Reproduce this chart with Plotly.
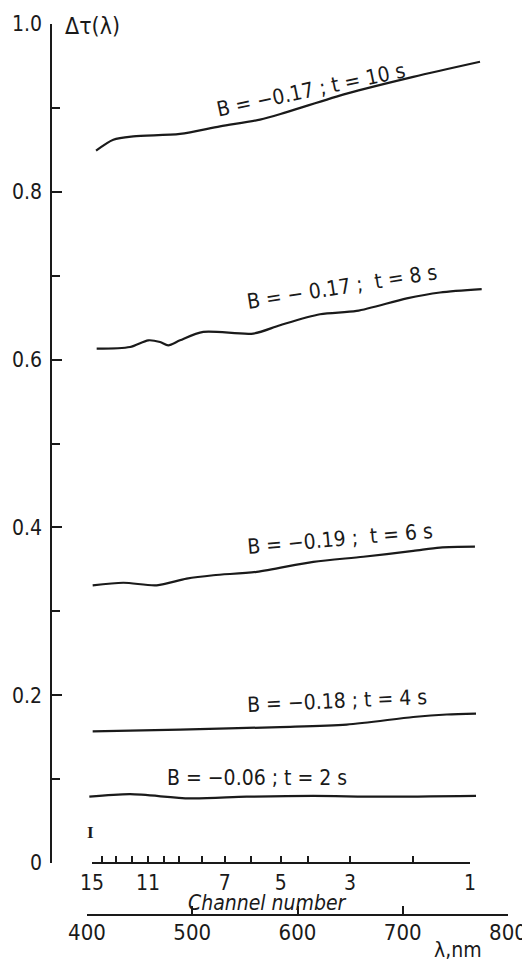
import plotly.graph_objects as go

# ---------------- data ----------------
# wavelength (nm) / delta-tau values for each curve
wl_10s = [408.6, 425.0, 444.0, 488.4, 526.4, 564.4, 589.7, 646.7, 710.0, 773.4]
dt_10s = [0.849, 0.862, 0.866, 0.869, 0.878, 0.886, 0.895, 0.917, 0.937, 0.955]

wl_8s = [409.2, 440.9, 458.2, 469.4, 477.2, 488.4, 510.5, 558.0, 583.4, 621.4, 656.2, 703.8, 735.4, 775.0]
dt_8s = [0.613, 0.615, 0.623, 0.621, 0.617, 0.623, 0.633, 0.631, 0.641, 0.654, 0.658, 0.673, 0.680, 0.684]

wl_6s = [405.4, 434.5, 466.2, 494.7, 520.0, 561.2, 615.0, 662.5, 710.0, 735.4, 768.6]
dt_6s = [0.331, 0.334, 0.331, 0.339, 0.343, 0.347, 0.359, 0.365, 0.372, 0.376, 0.377]

wl_4s = [405.4, 488.4, 583.4, 646.7, 710.0, 741.8, 769.6]
dt_4s = [0.157, 0.159, 0.162, 0.165, 0.174, 0.177, 0.178]

wl_2s = [402.2, 440.9, 497.9, 551.7, 615.0, 678.4, 769.6]
dt_2s = [0.079, 0.082, 0.077, 0.079, 0.080, 0.079, 0.080]

curve_labels = ["B = \u22120.17 ; t = 10 s", "B = \u2212 0.17 ;  t = 8 s", "B = \u22120.19 ;  t = 6 s",
                "B = \u22120.18 ; t = 4 s", "B = \u22120.06 ; t = 2 s"]
label_wl = [612.8, 642.0, 640.4, 637.2, 561.2]
label_dt = [0.921, 0.686, 0.386, 0.193, 0.101]
label_angle = [-12, -9, -5, -2.5, 0]

# channel numbers and their wavelength positions
channel_no = list(range(15, 0, -1))
channel_nm = [404.8, 414.0, 427.6, 442.8, 458.0, 473.0, 487.0, 509.0, 531.0, 556.0,
              584.0, 610.0, 650.0, 710.0, 764.0]
channel_labeled = [15, 11, 7, 5, 3, 1]

wl_ticks = [400, 500, 600, 700, 800]
y_major = [0, 0.2, 0.4, 0.6, 0.8, 1.0]
y_major_text = ["0", "0.2", "0.4", "0.6", "0.8", "1.0"]

# ---------------- layout geometry (page pixels) ----------------
PAGE_W, PAGE_H = 530, 964
BODY = 8                       # default page margin around the plot div
W, H = PAGE_W - BODY, PAGE_H - BODY
AX_LEFT, AX_TOP, AX_RIGHT, AX_BOTTOM = 51, 24, 508, 915   # page px
L, T = AX_LEFT - BODY, AX_TOP - BODY
R, B = PAGE_W - AX_RIGHT, PAGE_H - AX_BOTTOM
pw, ph = W - L - R, H - T - B
x0 = (87 - AX_LEFT) / pw            # start of wavelength axis inside paper
ydom0 = (AX_BOTTOM - 863) / ph      # y=0 level above wavelength axis

def nm_to_paper(nm):
    return x0 + (nm - wl_ticks[0]) / (wl_ticks[-1] - wl_ticks[0]) * (1 - x0)

def px(xp):
    return (xp - AX_LEFT) / pw

def py(yp):
    return (AX_BOTTOM - yp) / ph

FONT = "DejaVu Sans Condensed, Liberation Sans Narrow, sans-serif"
INK = "#1a1a1a"

fig = go.Figure()
for wl, dt in [(wl_10s, dt_10s), (wl_8s, dt_8s), (wl_6s, dt_6s), (wl_4s, dt_4s), (wl_2s, dt_2s)]:
    fig.add_trace(go.Scatter(x=wl, y=dt, mode="lines",
                             line=dict(color=INK, width=2.2, shape="spline", smoothing=0.8),
                             showlegend=False, hoverinfo="skip", xaxis="x", yaxis="y"))

# invisible trace so the channel axis is drawn
fig.add_trace(go.Scatter(x=[channel_nm[0], channel_nm[-1]], y=[0, 0], mode="markers",
                         marker=dict(opacity=0), showlegend=False, hoverinfo="skip",
                         xaxis="x2", yaxis="y"))

fig.update_layout(
    template="none",
    width=W, height=H,
    margin=dict(l=L, r=R, t=T, b=B, autoexpand=False),
    paper_bgcolor="white", plot_bgcolor="rgba(0,0,0,0)",
    font=dict(family=FONT, color=INK, size=21),
    xaxis=dict(domain=[x0, 1], range=[wl_ticks[0], wl_ticks[-1]], anchor="free", position=0,
               automargin=False,
               showgrid=False, zeroline=False, showline=True, linecolor=INK, linewidth=1.5,
               tickvals=wl_ticks, ticks="inside", ticklen=8, tickwidth=1.5, tickcolor=INK,
               tickfont=dict(size=22), ticklabelstandoff=-2),
    xaxis2=dict(domain=[nm_to_paper(channel_nm[0]), nm_to_paper(channel_nm[-1])],
                range=[channel_nm[0], channel_nm[-1]], anchor="free", position=ydom0,
                automargin=False,
                showgrid=False, zeroline=False, showline=True, linecolor=INK, linewidth=1.5,
                tickvals=channel_nm,
                ticktext=[str(c) if c in channel_labeled else "" for c in channel_no],
                ticks="inside", ticklen=6, tickwidth=1.5, tickcolor=INK,
                tickfont=dict(size=21), ticklabelstandoff=1),
    yaxis=dict(domain=[ydom0, 1], range=[0, 1], anchor="free", position=0,
               automargin=False,
               showgrid=False, zeroline=False, showline=True, linecolor=INK, linewidth=1.5,
               tickvals=y_major, ticktext=y_major_text, ticks="inside", ticklen=10,
               tickwidth=1.5, tickcolor=INK, tickfont=dict(size=21), ticklabelstandoff=4,
               minor=dict(dtick=0.1, tick0=0, ticks="inside", ticklen=8, tickwidth=1.5, tickcolor=INK)),
)

for txt, lx, ly, ang in zip(curve_labels, label_wl, label_dt, label_angle):
    fig.add_annotation(x=lx, y=ly, xref="x", yref="y", text=txt, showarrow=False,
                       xanchor="center", yanchor="middle",
                       textangle=ang, font=dict(size=21, family=FONT, color=INK))

# axis titles and marks
fig.add_annotation(x=px(63), y=py(26), xref="paper", yref="paper", xanchor="left", yanchor="middle",
                   text="\u0394\u03c4(\u03bb)", showarrow=False, font=dict(size=23, family=FONT))
fig.add_annotation(x=px(267), y=py(903), xref="paper", yref="paper", xanchor="center", yanchor="middle",
                   text="<i>Channel number</i>", showarrow=False, font=dict(size=21, family=FONT))
fig.add_annotation(x=px(458), y=py(950), xref="paper", yref="paper", xanchor="center", yanchor="middle",
                   text="\u03bb,nm", showarrow=False, font=dict(size=21, family=FONT))
fig.add_annotation(x=px(90), y=py(832), xref="paper", yref="paper", xanchor="center", yanchor="middle",
                   text="<b>I</b>", showarrow=False, font=dict(size=17, family="Liberation Serif, serif"))

fig.write_html("out.html")
